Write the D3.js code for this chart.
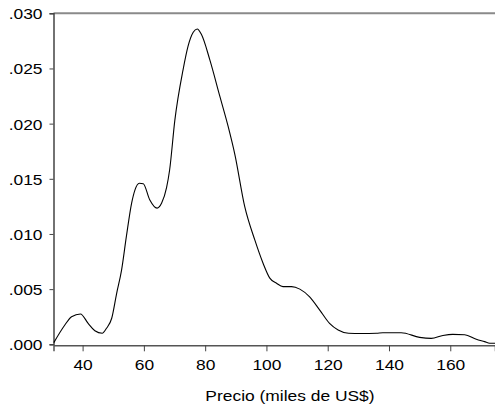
<!DOCTYPE html>
<html>
<head>
<meta charset="utf-8">
<script src="https://cdn.jsdelivr.net/npm/d3@7"></script>
<style>
  html, body { margin: 0; padding: 0; background: #fff; }
  svg { display: block; }
  text { font-family: "Liberation Sans", Arial, sans-serif; fill: #000; }
</style>
</head>
<body>
<script>
// Data (kernel density of price)
const precio = [30.6, 34.2, 36.4, 39.3, 41.8, 44.0, 46.4, 47.8, 49.5, 51.1, 52.7, 54.3, 56.0, 57.1, 58.5, 59.8, 61.9, 64.3, 65.8, 67.4, 68.4,
  70.1, 72.8, 74.4, 76.1, 77.4, 78.8, 81.5, 84.8, 87.5, 89.7, 92.9, 96.2, 98.9, 101.1, 103.3, 105.4, 108.2, 110.9, 114.1, 117.4,
  120.6, 123.4, 126.8, 131.0, 135.9, 138.0, 144.0, 150.0, 153.8, 157.6, 160.8, 164.7, 168.5, 171.2, 172.9, 174.6];
const densidad = [0.00015, 0.00175, 0.0025, 0.00275, 0.0019, 0.00123, 0.0010, 0.00145, 0.00236, 0.0046, 0.0067, 0.0098, 0.0128, 0.0140, 0.0146, 0.01455, 0.0131, 0.01234, 0.0128, 0.0142, 0.0158,
  0.0203, 0.0249, 0.0270, 0.02828, 0.02858, 0.02807, 0.0258, 0.02247, 0.01975, 0.0172, 0.0125, 0.00946, 0.00735, 0.0060, 0.00553, 0.00523, 0.00523, 0.0050, 0.0043, 0.0031,
  0.0019, 0.0013, 0.0010, 0.00098, 0.0010, 0.00105, 0.00105, 0.00063, 0.00054, 0.0008, 0.0009, 0.00087, 0.00045, 0.00024, 0.0001, 0.0001];
const xTicks = [40, 60, 80, 100, 120, 140, 160];
const yTicks = [0, 0.005, 0.010, 0.015, 0.020, 0.025, 0.030];
const xTitle = "Precio (miles de US$)";

const W = 495, H = 408;
const m = { left: 53.5, right: 0, top: 13.3 };
const STRETCH = 1.16;
const svg = d3.select("body").append("svg").attr("width", W).attr("height", H);

const x = d3.scaleLinear().domain([30.5, 174.6]).range([m.left, W - m.right]);
const y = d3.scaleLinear().domain([0, 0.030]).range([344.3, m.top]);

function widen(sel) {
  sel.each(function () {
    const L = this.getComputedTextLength();
    d3.select(this).attr("textLength", L * STRETCH).attr("lengthAdjust", "spacingAndGlyphs");
  });
}

// top frame line
svg.append("line")
  .attr("x1", m.left).attr("x2", W).attr("y1", y(0.030)).attr("y2", y(0.030))
  .attr("stroke", "#8a8a8a").attr("stroke-width", 2);

const fmt = d => d3.format(".3f")(d).replace(/^0/, "");

const yAxis = svg.append("g")
  .attr("transform", `translate(${m.left},0)`)
  .call(d3.axisLeft(y).tickValues(yTicks).tickFormat(fmt).tickSizeOuter(0).tickSize(4).tickPadding(7));
yAxis.select(".domain").attr("stroke", "#444").attr("stroke-width", 1.5);
yAxis.selectAll(".tick line").attr("stroke", "#444");
yAxis.selectAll("text").style("font-size", "15px").attr("font-family", null).attr("dy", "0.36em").call(widen);

const xAxis = svg.append("g")
  .attr("transform", `translate(0,${y(0) + 1})`)
  .call(d3.axisBottom(x).tickValues(xTicks).tickFormat(d3.format("d")).tickSizeOuter(0).tickSize(6).tickPadding(8));
xAxis.select(".domain").attr("stroke", "#555").attr("stroke-width", 1.5);
xAxis.selectAll(".tick line").attr("stroke", "#444");
xAxis.selectAll("text").style("font-size", "15px").call(widen);
xAxis.attr("font-family", null);
yAxis.attr("font-family", null);

svg.append("text")
  .attr("x", 290).attr("y", 401)
  .attr("text-anchor", "middle")
  .style("font-size", "15px")
  .text(xTitle)
  .call(widen);

const pts = precio.map((p, i) => [p, densidad[i]]);
svg.append("path")
  .datum(pts)
  .attr("fill", "none")
  .attr("stroke", "#000")
  .attr("stroke-width", 1.1)
  .attr("d", d3.line().x(d => x(d[0])).y(d => y(d[1])).curve(d3.curveMonotoneX));
</script>
</body>
</html>
